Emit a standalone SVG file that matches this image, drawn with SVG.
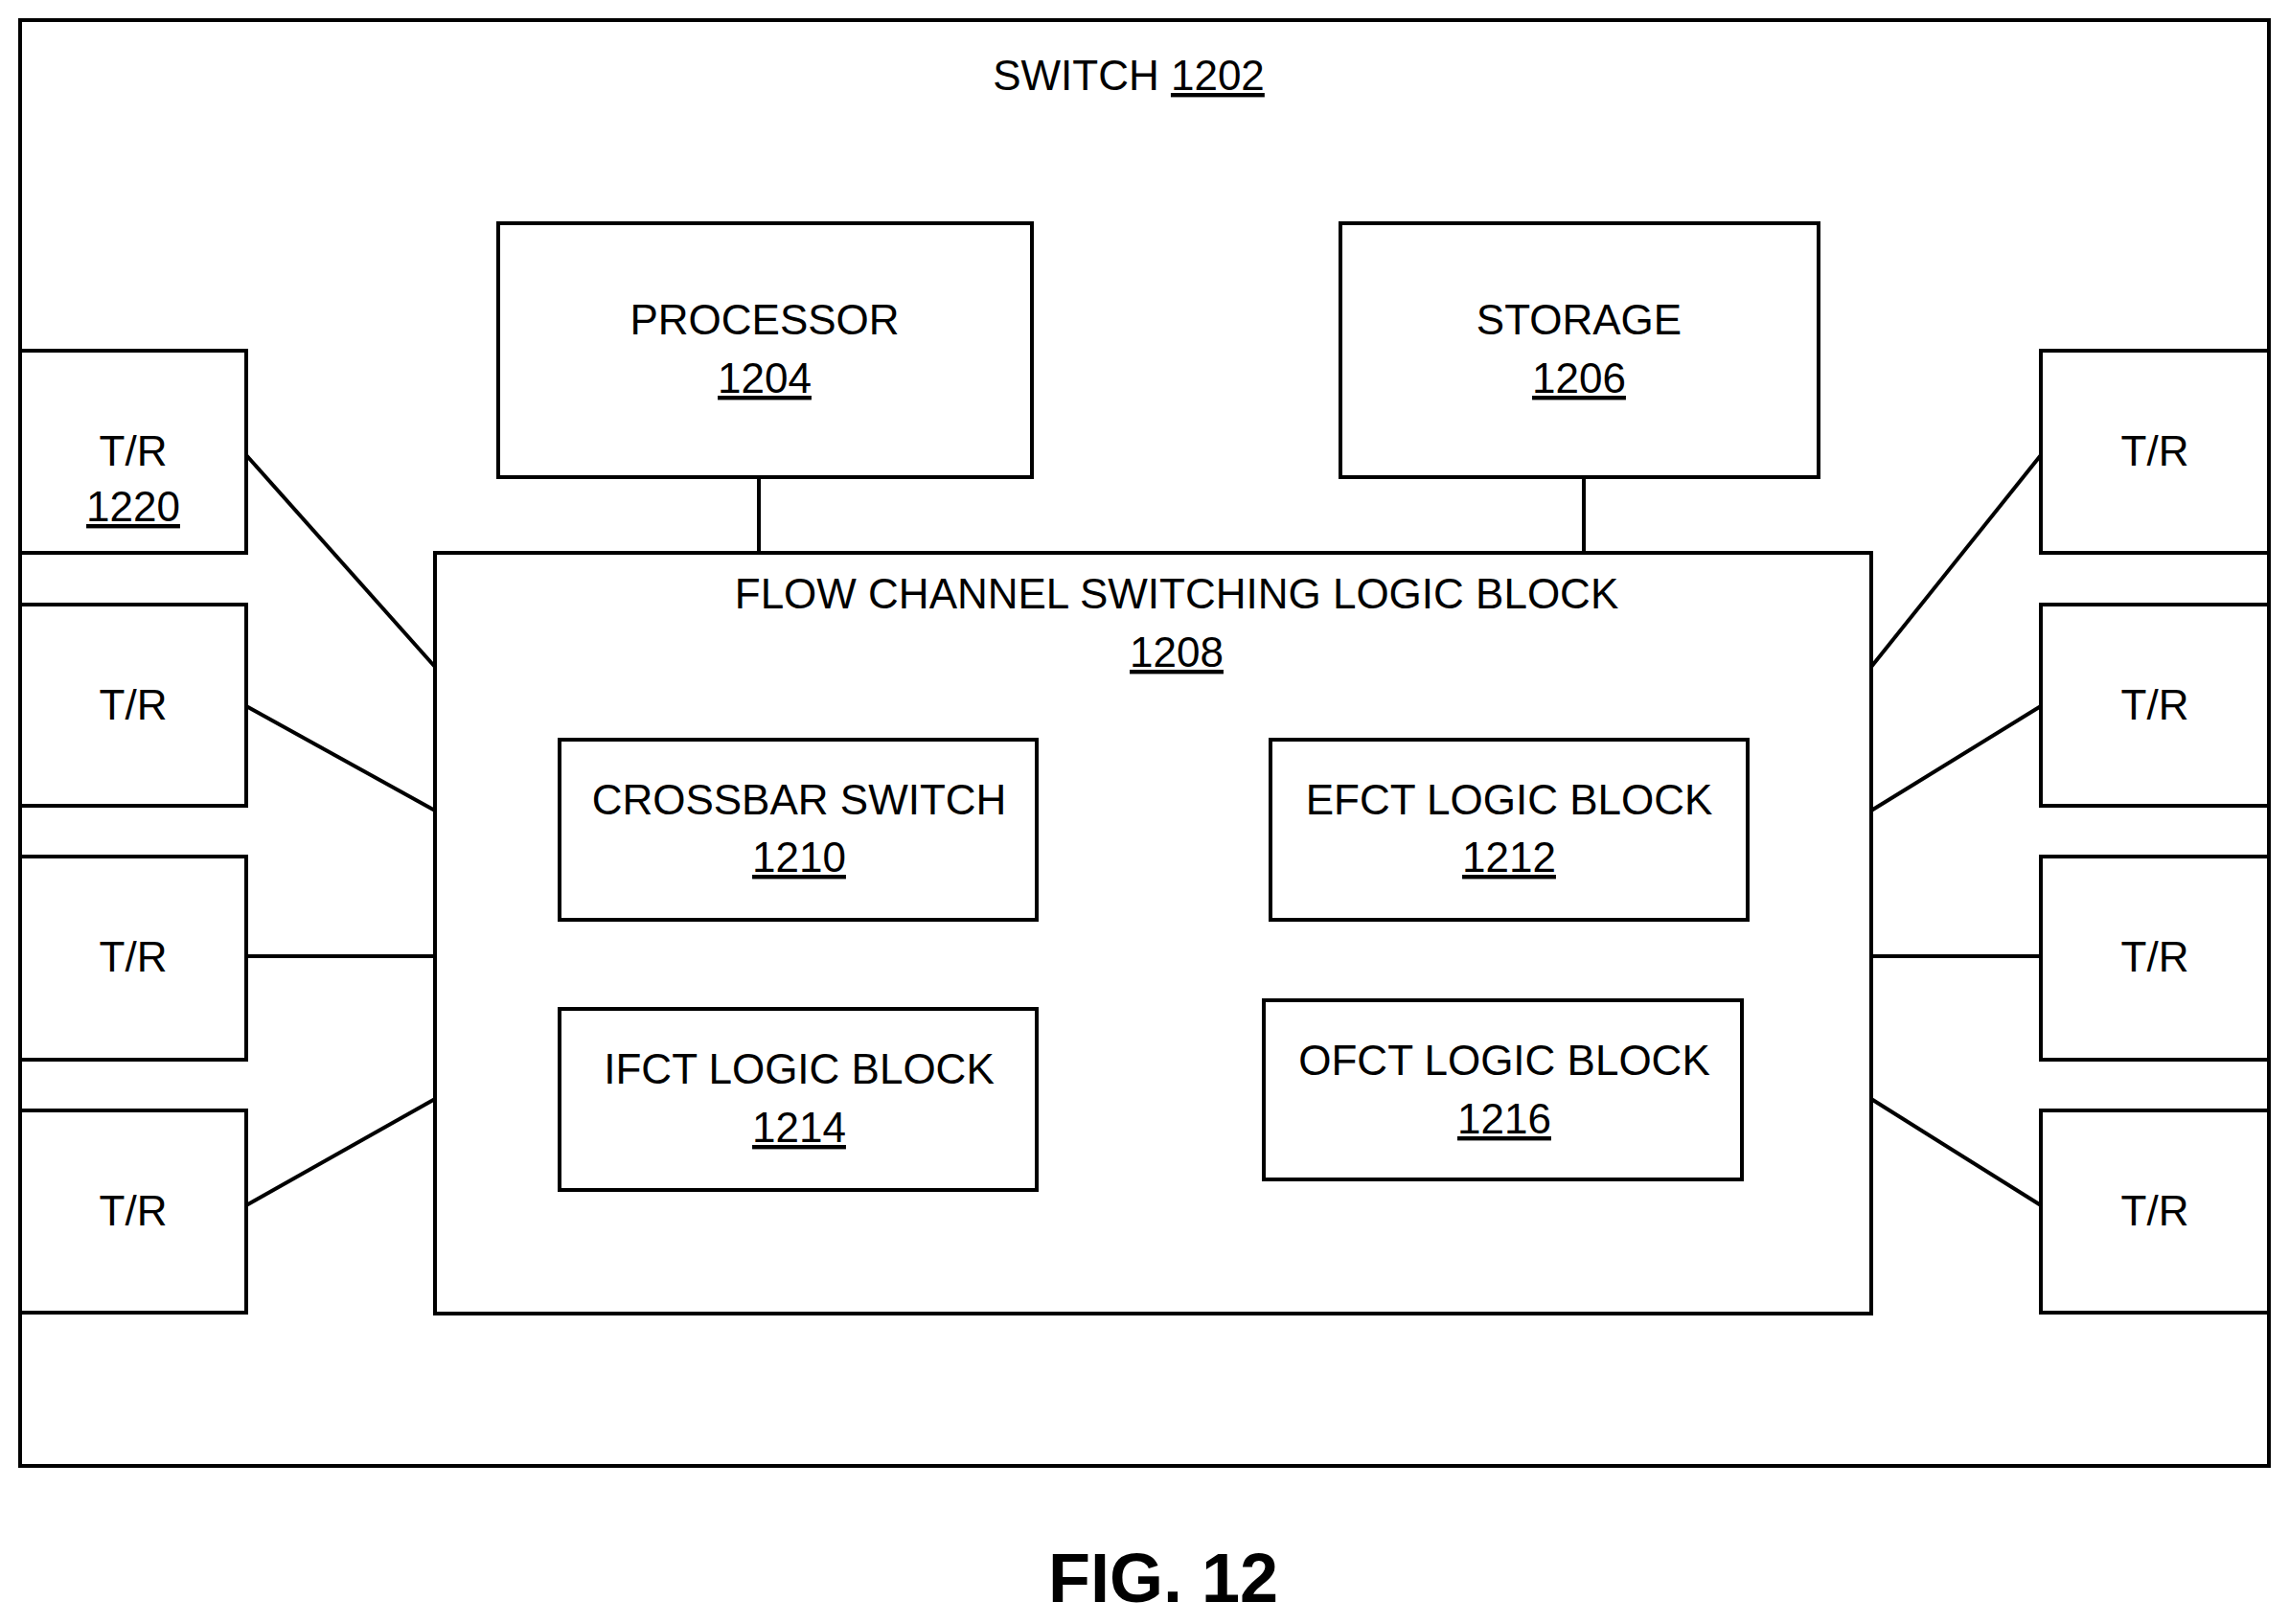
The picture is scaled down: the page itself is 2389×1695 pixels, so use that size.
<svg xmlns="http://www.w3.org/2000/svg" width="2389" height="1695" viewBox="0 0 2389 1695">
<style>
rect{fill:#fff;stroke:#000;stroke-width:4}
line{stroke:#000;stroke-width:4}
text{font-family:"Liberation Sans",Arial,sans-serif;font-size:44px;text-anchor:middle;fill:#000}
.u{text-decoration:underline}
</style>
<rect width="2389" height="1695" style="stroke:none"/>
<g id="switch"><rect x="21" y="21" width="2347" height="1509"/><text x="1178" y="94">SWITCH <tspan class="u">1202</tspan></text></g>
<g id="connectors">
<line x1="792" y1="498" x2="792" y2="577"/><line x1="1653" y1="498" x2="1653" y2="577"/>
<line x1="257" y1="475" x2="454" y2="696"/><line x1="257" y1="737" x2="454" y2="846"/><line x1="257" y1="998" x2="454" y2="998"/><line x1="257" y1="1258" x2="454" y2="1147"/>
<line x1="2130" y1="475" x2="1953" y2="696"/><line x1="2130" y1="737" x2="1953" y2="846"/><line x1="2130" y1="998" x2="1953" y2="998"/><line x1="2130" y1="1258" x2="1953" y2="1147"/>
</g>
<g id="processor"><rect x="520" y="233" width="557" height="265"/><text x="798" y="349">PROCESSOR</text><text x="798" y="410" class="u">1204</text></g>
<g id="storage"><rect x="1399" y="233" width="499" height="265"/><text x="1648" y="349">STORAGE</text><text x="1648" y="410" class="u">1206</text></g>
<g id="fcsl"><rect x="454" y="577" width="1499" height="794"/><text x="1228" y="635">FLOW CHANNEL SWITCHING LOGIC BLOCK</text><text x="1228" y="696" class="u">1208</text></g>
<g id="crossbar"><rect x="584" y="772" width="498" height="188"/><text x="834" y="850">CROSSBAR SWITCH</text><text x="834" y="910" class="u">1210</text></g>
<g id="efct"><rect x="1326" y="772" width="498" height="188"/><text x="1575" y="850">EFCT LOGIC BLOCK</text><text x="1575" y="910" class="u">1212</text></g>
<g id="ifct"><rect x="584" y="1053" width="498" height="189"/><text x="834" y="1131">IFCT LOGIC BLOCK</text><text x="834" y="1192" class="u">1214</text></g>
<g id="ofct"><rect x="1319" y="1044" width="499" height="187"/><text x="1570" y="1122">OFCT LOGIC BLOCK</text><text x="1570" y="1183" class="u">1216</text></g>
<g id="tr1220"><rect x="21" y="366" width="236" height="211"/><text x="139" y="486">T/R</text><text x="139" y="544" class="u">1220</text></g>
<g id="trl2"><rect x="21" y="631" width="236" height="210"/><text x="139" y="751">T/R</text></g>
<g id="trl3"><rect x="21" y="894" width="236" height="212"/><text x="139" y="1014">T/R</text></g>
<g id="trl4"><rect x="21" y="1159" width="236" height="211"/><text x="139" y="1279">T/R</text></g>
<g id="trr1"><rect x="2130" y="366" width="238" height="211"/><text x="2249" y="486">T/R</text></g>
<g id="trr2"><rect x="2130" y="631" width="238" height="210"/><text x="2249" y="751">T/R</text></g>
<g id="trr3"><rect x="2130" y="894" width="238" height="212"/><text x="2249" y="1014">T/R</text></g>
<g id="trr4"><rect x="2130" y="1159" width="238" height="211"/><text x="2249" y="1279">T/R</text></g>
<text x="1214" y="1672" style="font-size:72px;font-weight:bold">FIG. 12</text>
</svg>
